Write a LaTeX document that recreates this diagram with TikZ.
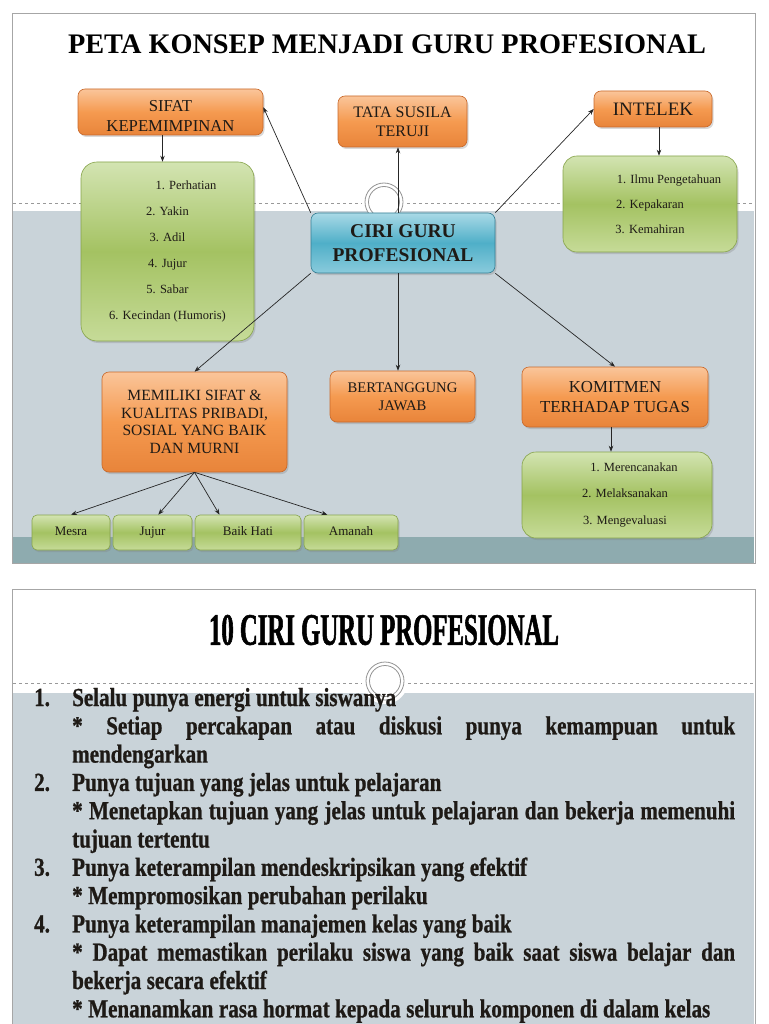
\documentclass[tikz,border=0pt]{standalone}
\usepackage{fontspec}
\setmainfont{Liberation Serif}
\newfontfamily\judulfont[FakeStretch=0.55,FakeBold=1.2]{Liberation Serif}
\newfontfamily\isifont[FakeStretch=0.81,FakeBold=0.8]{Liberation Serif}
\usetikzlibrary{arrows.meta,shadows}

\definecolor{oranyeAtas}{HTML}{FAC59A}
\definecolor{oranyeTengah}{HTML}{F59A50}
\definecolor{oranyeBawah}{HTML}{E8843A}
\definecolor{oranyeGaris}{HTML}{C8682A}
\definecolor{hijauAtas}{HTML}{D3E4B2}
\definecolor{hijauTengah}{HTML}{A4C262}
\definecolor{hijauBawah}{HTML}{C6DB98}
\definecolor{hijauGaris}{HTML}{86A34A}
\definecolor{biruAtas}{HTML}{A9D9E6}
\definecolor{biruTengah}{HTML}{4FAFC8}
\definecolor{biruBawah}{HTML}{8ACBDC}
\definecolor{biruGaris}{HTML}{357F95}
\definecolor{latarAbu}{HTML}{C9D3D9}
\definecolor{pitaBawah}{HTML}{8EABAF}
\definecolor{bingkai}{HTML}{A6A6A6}
\definecolor{tinta}{HTML}{1E1A16}

\begin{document}
\begin{tikzpicture}[x=1pt, y=-1pt,
    kotak/.style={rounded corners=7pt, line width=0.6pt, text=tinta, align=center, inner sep=2pt,
        drop shadow={shadow xshift=1.5pt, shadow yshift=-2pt, opacity=0.3}},
    oranye/.style={kotak, draw=oranyeGaris, top color=oranyeAtas, bottom color=oranyeBawah, middle color=oranyeTengah},
    hijau/.style={kotak, draw=hijauGaris, top color=hijauAtas, bottom color=hijauBawah, middle color=hijauTengah},
    biru/.style={kotak, draw=biruGaris, top color=biruAtas, bottom color=biruBawah, middle color=biruTengah,
        font=\bfseries\fontsize{19.5}{24}\selectfont},
    kecil/.style={hijau, rounded corners=5pt, minimum height=35pt, text height=9pt, text depth=3pt,
        font=\fontsize{13}{15}\selectfont},
    panah/.style={-{Stealth[length=6pt,width=4.5pt]}, line width=0.7pt, black!85},
    cincin/.style={draw=gray!85, line width=0.8pt}]
    \useasboundingbox (0,0) rectangle (768,1024);

    % Slide 1: latar
    \fill[latarAbu] (13,211) rectangle (754,537);
    \fill[pitaBawah] (13,537) rectangle (754,563);
    \draw[bingkai] (12,13) rectangle (755,563);
    \draw[dashed, gray!80] (13,203) -- (362,203) (407,203) -- (754,203);
    \draw[cincin, fill=white] (384,202) circle (19pt);
    \draw[cincin] (384,202) circle (15.5pt);

    \node (judul) at (387,44) {\bfseries\fontsize{28.3}{32}\selectfont PETA KONSEP MENJADI GURU PROFESIONAL};

    % Pusat
    \node (ciri) [biru, minimum width=184pt, minimum height=60pt] at (403,243) {CIRI GURU\\PROFESIONAL};

    % Kotak oranye
    \node (sifat) [oranye, minimum width=185pt, minimum height=46pt, font=\fontsize{16.7}{20}\selectfont] at (170.5,112) {\rule{0pt}{19pt}SIFAT\\KEPEMIMPINAN};
    \node (tata) [oranye, minimum width=129pt, minimum height=51pt, font=\fontsize{16}{19}\selectfont] at (402.5,121.5) {TATA SUSILA\\TERUJI};
    \node (intelek) [oranye, minimum width=118pt, minimum height=36pt, font=\fontsize{19}{22}\selectfont] at (653,109) {INTELEK};
    \node (memiliki) [oranye, minimum width=185pt, minimum height=100pt, font=\fontsize{15.6}{17.5}\selectfont] at (194.5,422) {MEMILIKI SIFAT \&\\KUALITAS PRIBADI,\\SOSIAL YANG BAIK\\DAN MURNI};
    \node (bertanggung) [oranye, minimum width=145pt, minimum height=51pt, font=\fontsize{14.7}{18}\selectfont] at (402.5,396.5) {BERTANGGUNG\\JAWAB};
    \node (komitmen) [oranye, minimum width=186pt, minimum height=60pt, font=\fontsize{16.8}{20}\selectfont] at (615,397) {KOMITMEN\\TERHADAP TUGAS};

    % Kotak hijau
    \node (daftarSifat) [hijau, rounded corners=16pt, minimum width=173pt, minimum height=179pt, font=\fontsize{12.5}{26}\selectfont] at (167.5,251.5)
        {\hspace*{37pt}1. Perhatian\\2. Yakin\\3. Adil\\4. Jujur\\5. Sabar\\6. Kecindan (Humoris)};
    \node (daftarIntelek) [hijau, rounded corners=14pt, minimum width=174pt, minimum height=96pt, font=\fontsize{12.5}{25}\selectfont] at (650,204)
        {\hspace*{38pt}1. Ilmu Pengetahuan\\2. Kepakaran\\3. Kemahiran};
    \node (daftarKomitmen) [hijau, rounded corners=14pt, minimum width=190pt, minimum height=86pt, font=\fontsize{12.5}{26.5}\selectfont] at (617,495)
        {\hspace*{34pt}1. Merencanakan\\\hspace*{16pt}2. Melaksanakan\\\hspace*{16pt}3. Mengevaluasi};
    \node (mesra) [kecil, minimum width=78pt] at (71,532.5) {Mesra};
    \node (jujur) [kecil, minimum width=79pt] at (152.5,532.5) {Jujur};
    \node (baikhati) [kecil, minimum width=106pt] at (248,532.5) {Baik Hati};
    \node (amanah) [kecil, minimum width=94pt] at (351,532.5) {Amanah};

    % Panah
    \draw[panah] (ciri.north west) -- (sifat.3);
    \draw[panah] ([xshift=-5]ciri.north) -- ([xshift=-5]ciri.north |- tata.south);
    \draw[panah] (ciri.north east) -- (intelek.west);
    \draw[panah] (ciri.south west) -- (memiliki.north);
    \draw[panah] ([xshift=-5]ciri.south) -- ([xshift=-5]ciri.south |- bertanggung.north);
    \draw[panah] (ciri.south east) -- (komitmen.north);
    \draw[panah] ([xshift=-8]sifat.south) -- ([xshift=-8]sifat.south |- daftarSifat.north);
    \draw[panah] ([xshift=6]intelek.south) -- ([xshift=6]intelek.south |- daftarIntelek.north);
    \draw[panah] ([xshift=-4]komitmen.south) -- ([xshift=-4]komitmen.south |- daftarKomitmen.north);
    \draw[panah] (memiliki.south) -- (mesra.north);
    \draw[panah] (memiliki.south) -- (jujur.72);
    \draw[panah] (memiliki.south) -- (baikhati.148);
    \draw[panah] (memiliki.south) -- (amanah.143);

    % Slide 2
    \fill[latarAbu] (13,693) rectangle (754,1024);
    \draw[bingkai] (12,1024) -- (12,589) -- (755,589) -- (755,1024);
    \draw[dashed, gray!80] (13,683) -- (362,683) (408,683) -- (754,683);
    \fill[white] (385,681) circle (23pt);
    \draw[cincin] (385,681) circle (19pt);
    \draw[cincin] (385,681) circle (15.5pt);

    \node (judul2) at (384,630) {\judulfont\bfseries\fontsize{45}{50}\selectfont 10 CIRI GURU PROFESIONAL};

    \node (daftar) [anchor=base west, text width=730pt, align=left, inner sep=0pt, text=tinta,
        font=\isifont\bfseries\fontsize{26}{28.3}\selectfont] at (34,706) {%
        \spaceskip=5.5pt plus 3pt minus 1pt
        \makebox[38pt][l]{1.}Selalu punya energi untuk siswanya\\
        \hspace*{38pt}\makebox[663pt][s]{* Setiap percakapan atau diskusi punya kemampuan untuk}\\
        \hspace*{38pt}mendengarkan\\
        \makebox[38pt][l]{2.}Punya tujuan yang jelas untuk pelajaran\\
        \hspace*{38pt}\makebox[663pt][s]{* Menetapkan tujuan yang jelas untuk pelajaran dan bekerja memenuhi}\\
        \hspace*{38pt}tujuan tertentu\\
        \makebox[38pt][l]{3.}Punya keterampilan mendeskripsikan yang efektif\\
        \hspace*{38pt}* Mempromosikan perubahan perilaku\\
        \makebox[38pt][l]{4.}Punya keterampilan manajemen kelas yang baik\\
        \hspace*{38pt}\makebox[663pt][s]{* Dapat memastikan perilaku siswa yang baik saat siswa belajar dan}\\
        \hspace*{38pt}bekerja secara efektif\\
        \hspace*{38pt}* Menanamkan rasa hormat kepada seluruh komponen di dalam kelas};
\end{tikzpicture}
\end{document}
